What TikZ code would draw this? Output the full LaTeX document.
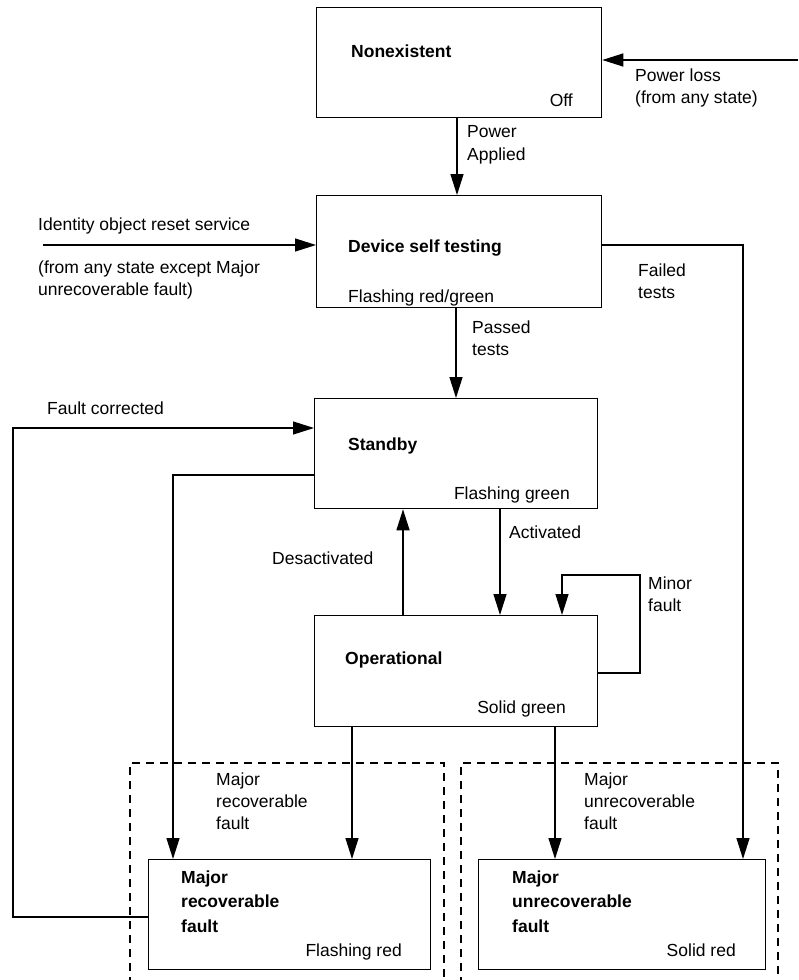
\documentclass[tikz,border=0pt]{standalone}
\usepackage{fontspec}
\setmainfont{Liberation Sans}
\usetikzlibrary{arrows.meta}
\begin{document}
\begin{tikzpicture}[x=1pt,y=-1pt,
  font=\fontsize{17.5}{22}\selectfont,
  box/.style={draw,line width=1.3pt,anchor=north west,inner sep=0pt},
  arr/.style={line width=1.3pt,-{Triangle[length=21pt,width=13pt]}},
  dashbox/.style={line width=1.2pt,dash pattern=on 8pt off 6pt},
  lbl/.style={anchor=base west,inner sep=0pt},
  lblr/.style={anchor=base east,inner sep=0pt},
  bf/.style={anchor=base west,inner sep=0pt,font=\fontsize{17.5}{22}\selectfont\bfseries}]
\useasboundingbox (0,0) rectangle (798,980);
% boxes
\node[box,minimum width=285pt,minimum height=110pt] (ne) at (316,7) {};
\node[box,minimum width=285pt,minimum height=112pt] (dst) at (316,195) {};
\node[box,minimum width=283pt,minimum height=110pt] (sb) at (314,398) {};
\node[box,minimum width=283pt,minimum height=111pt] (op) at (314,615) {};
\node[box,minimum width=282pt,minimum height=110pt] (mr) at (148,859) {};
\node[box,minimum width=287pt,minimum height=110pt] (mu) at (478,859) {};
% dashed groups
\draw[dashbox] (130,985) -- (130,763) -- (444,763) -- (444,985);
\draw[dashbox] (461,985) -- (461,763) -- (778,763) -- (778,985);
% box texts
\node[bf] (t1) at (351,57) {Nonexistent};
\node[lblr] (t2) at (573,106) {Off};
\node[bf] (t3) at (348,252) {Device self testing};
\node[lbl] (t4) at (348,302) {Flashing red/green};
\node[bf] (t5) at (348,450) {Standby};
\node[lblr] (t6) at (570,499) {Flashing green};
\node[bf] (t7) at (345,664) {Operational};
\node[lblr] (t8) at (566,713) {Solid green};
\node[bf] (t9) at (181,883) {Major};
\node[bf] (t10) at (181,907) {recoverable};
\node[bf] (t11) at (181,932) {fault};
\node[lblr] (t12) at (402,956) {Flashing red};
\node[bf] (t13) at (512,883) {Major};
\node[bf] (t14) at (512,907) {unrecoverable};
\node[bf] (t15) at (512,932) {fault};
\node[lblr] (t16) at (736,956) {Solid red};
% coordinates
\coordinate (pl) at (798,60);
\coordinate (idl) at (43,245);
\coordinate (f1) at (743,245);
\coordinate (fc) at (13,428);
\coordinate (fcb) at (13,917);
\coordinate (sl) at (173,475);
\coordinate (dx) at (403,560);
\coordinate (ax) at (500,560);
\coordinate (m1) at (640,673);
\coordinate (m2) at (562,575);
\coordinate (rx) at (352,790);
\coordinate (ux) at (555,790);
% connectors
\draw[arr] (pl) -- (pl -| ne.east);
\draw[arr] (ne.south -| 457,0) -- (dst.north -| 457,0);
\draw[arr] (idl) -- (idl -| dst.west);
\draw[arr] (f1 -| dst.east) -- (f1) -- (f1 |- mu.north);
\draw[arr] (dst.south -| 456,0) -- (sb.north -| 456,0);
\draw[arr] (fcb -| mr.west) -- (fcb) -- (fc) -- (fc -| sb.west);
\draw[arr] (sl -| sb.west) -- (sl) -- (sl |- mr.north);
\draw[arr] (dx |- op.north) -- (dx |- sb.south);
\draw[arr] (ax |- sb.south) -- (ax |- op.north);
\draw[arr] (m1 -| op.east) -- (m1) -- (m1 |- m2) -- (m2) -- (m2 |- op.north);
\draw[arr] (rx |- op.south) -- (rx |- mr.north);
\draw[arr] (ux |- op.south) -- (ux |- mu.north);
% labels
\node[lbl] (l1) at (635,81) {Power loss};
\node[lbl] (l2) at (635,103) {(from any state)};
\node[lbl] (l3) at (467,137) {Power};
\node[lbl] (l4) at (467,160) {Applied};
\node[lbl] (l5) at (38,230) {Identity object reset service};
\node[lbl] (l6) at (38,273) {(from any state except Major};
\node[lbl] (l7) at (38,295) {unrecoverable fault)};
\node[lbl] (l8) at (638,276) {Failed};
\node[lbl] (l9) at (638,298) {tests};
\node[lbl] (l10) at (472,333) {Passed};
\node[lbl] (l11) at (472,355) {tests};
\node[lbl] (l12) at (47,414) {Fault corrected};
\node[lbl] (l13) at (509,538) {Activated};
\node[lbl] (l14) at (272,564) {Desactivated};
\node[lbl] (l15) at (648,589) {Minor};
\node[lbl] (l16) at (648,611) {fault};
\node[lbl] (l17) at (216,785) {Major};
\node[lbl] (l18) at (216,807) {recoverable};
\node[lbl] (l19) at (216,829) {fault};
\node[lbl] (l20) at (584,785) {Major};
\node[lbl] (l21) at (584,807) {unrecoverable};
\node[lbl] (l22) at (584,829) {fault};
\end{tikzpicture}
\end{document}
